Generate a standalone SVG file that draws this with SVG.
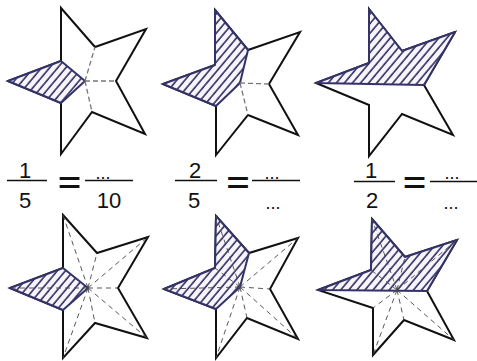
<svg xmlns="http://www.w3.org/2000/svg" width="477" height="361" viewBox="0 0 477 361">
  <defs>
    <pattern id="hatch" patternUnits="userSpaceOnUse" width="6.2" height="10" patternTransform="rotate(40)">
      <rect width="6.2" height="10" fill="#f7f4fb"/>
      <line x1="1" y1="0" x2="1" y2="10" stroke="#2f2f5f" stroke-width="1.6"/>
    </pattern>
  </defs>
  <style>
    .star { fill: #ffffff; stroke: #111111; stroke-width: 2; stroke-linejoin: miter; }
    .shade { fill: url(#hatch); stroke: #33336a; stroke-width: 2; stroke-linejoin: round; }
    .dash { fill: none; stroke: #777777; stroke-width: 1.3; stroke-dasharray: 5 3; }
    .dash2 { fill: none; stroke: #444444; stroke-width: 0.9; stroke-dasharray: 5 4; }
    .num { font-family: "Liberation Sans", Arial, sans-serif; font-size: 22px; fill: #111111; text-anchor: middle; }
    .eq { font-family: "Liberation Sans", Arial, sans-serif; font-size: 28px; font-weight: bold; fill: #111111; text-anchor: middle; }
    .dots { font-family: "Liberation Sans", Arial, sans-serif; font-size: 18px; fill: #111111; text-anchor: middle; }
    .bar { stroke: #111111; stroke-width: 1.6; }
  </style>

  <rect width="477" height="361" fill="#ffffff"/>

  <!-- top row: one, two and half of five tips shaded -->
  <g id="star-top-1">
    <polygon class="star" points="61,8 95,47 146,29 116,81 145,134 92,112 61,154 61,103 8,81 61,61"/>
    <polygon class="shade" points="8,81 61,61 85,81 61,103"/>
    <path class="dash" d="M85,81 L95,47 M85,81 L116,81 M85,81 L92,112"/>
  </g>

  <g id="star-top-2">
    <polygon class="star" points="215,10 248,50 300,32 269,84 298,135 248,115 216,155 216,106 163,84 215,65"/>
    <polygon class="shade" points="215,10 248,50 240,83 216,106 163,84 215,65"/>
    <path class="dash" d="M240,83 L269,84 M240,83 L248,115"/>
  </g>

  <g id="star-top-3">
    <polygon class="star" points="369,9 402,51 455,32 424,85 453,135 402,114 369,156 369,105 316,83 369,63"/>
    <polygon class="shade" points="316,83 369,63 369,9 402,51 455,32 424,85"/>
  </g>

  <!-- fractions -->
  <g id="eq-1">
    <text class="num" x="25" y="178">1</text>
    <line class="bar" x1="7" y1="180.5" x2="47" y2="180.5"/>
    <text class="num" x="25" y="208">5</text>
    <text class="eq" x="69.5" y="192" textLength="23" lengthAdjust="spacingAndGlyphs">=</text>
    <text class="dots" x="103" y="179">...</text>
    <line class="bar" x1="85" y1="180.5" x2="133" y2="180.5"/>
    <text class="num" x="109" y="208">10</text>
  </g>

  <g id="eq-2">
    <text class="num" x="195" y="178">2</text>
    <line class="bar" x1="175" y1="180.5" x2="217" y2="180.5"/>
    <text class="num" x="194" y="208">5</text>
    <text class="eq" x="238" y="192" textLength="23" lengthAdjust="spacingAndGlyphs">=</text>
    <text class="dots" x="272" y="179">...</text>
    <line class="bar" x1="252" y1="180.5" x2="300" y2="180.5"/>
    <text class="dots" x="273" y="209">...</text>
  </g>

  <g id="eq-3">
    <text class="num" x="371" y="178">1</text>
    <line class="bar" x1="354" y1="181.5" x2="395" y2="181.5"/>
    <text class="num" x="372" y="208">2</text>
    <text class="eq" x="414.5" y="192" textLength="23" lengthAdjust="spacingAndGlyphs">=</text>
    <text class="dots" x="452" y="179">...</text>
    <line class="bar" x1="430" y1="181.5" x2="477" y2="181.5"/>
    <text class="dots" x="451" y="209">...</text>
  </g>

  <!-- bottom row: stars split into ten triangles -->
  <g id="star-bottom-1">
    <polygon class="star" points="63,215 97,253 148,237 118,288 147,338 95,323 63,358 63,310 10,288 63,268"/>
    <polygon class="shade" points="10,288 63,268 88,288 63,310"/>
    <path class="dash2" d="M88,288 L63,215 M88,288 L97,253 M88,288 L148,237 M88,288 L118,288 M88,288 L147,338 M88,288 L95,323 M88,288 L63,358 M88,288 L10,288"/>
  </g>

  <g id="star-bottom-2">
    <polygon class="star" points="216,216 249,253 298,238 270,289 298,339 247,318 216,358 216,309 164,289 215,268"/>
    <polygon class="shade" points="216,216 249,253 240,287 216,309 164,289 215,268"/>
    <path class="dash2" d="M240,287 L216,216 M240,287 L215,268 M240,287 L164,289 M240,287 L298,238 M240,287 L270,289 M240,287 L298,339 M240,287 L247,318 M240,287 L216,358"/>
  </g>

  <g id="star-bottom-3">
    <polygon class="star" points="372,219 405,257 457,240 427,291 454,340 404,320 373,355 373,308 318,290 371,270"/>
    <polygon class="shade" points="318,290 371,270 372,219 405,257 457,240 427,291"/>
    <path class="dash2" d="M397,290 L372,219 M397,290 L371,270 M397,290 L405,257 M397,290 L457,240 M397,290 L454,340 M397,290 L404,320 M397,290 L373,355 M397,290 L373,308"/>
  </g>
</svg>
